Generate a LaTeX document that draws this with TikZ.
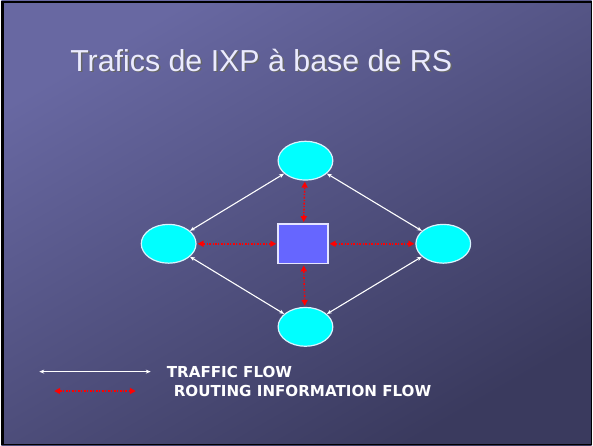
\documentclass[tikz,border=0pt]{standalone}
\usepackage{fontspec}
\setmainfont{Liberation Sans}
\newfontfamily\legendfont{DejaVu Sans}
\usetikzlibrary{positioning,arrows.meta,shapes.geometric}
\definecolor{slidetop}{HTML}{6868A2}
\definecolor{slidebottom}{HTML}{3A3A5E}
\definecolor{ixpcyan}{HTML}{00FFFF}
\definecolor{rsblue}{HTML}{6666FF}
\begin{document}
\begin{tikzpicture}[
x=1pt, y=-1pt,
hostnode/.style={ellipse, draw=white!85!cyan, fill=ixpcyan, line width=1.2pt, minimum width=55pt, minimum height=39pt, inner sep=0pt},
rsnode/.style={rectangle, draw=white!90!blue, fill=rsblue, line width=1.6pt, minimum width=50pt, minimum height=40pt, inner sep=0pt},
traffic/.style={draw=white, line width=1.1pt, {Stealth[length=5pt,width=4pt]}-{Stealth[length=5pt,width=4pt]}},
routing/.style={draw=red, line width=1.5pt, dash pattern={on 2pt off 1.5pt on 1pt off 1.5pt}, {Triangle[length=6pt,width=6pt]}-{Triangle[length=6pt,width=6pt]}, shorten >=1pt, shorten <=1pt}
]
% background
\shade[top color=slidetop, bottom color=slidebottom, shading angle=30] (0,0) rectangle (593,447);
\draw[black, line width=3pt] (1.5,1.5) -- (1.5,446) ;
\draw[black, line width=3pt] (0,1.5) -- (593,1.5);
\draw[black, line width=1pt] (592.5,0) -- (592.5,447);
\draw[black, line width=1pt] (0,446.5) -- (593,446.5);
\useasboundingbox (0,0) rectangle (593,447);

% title
\node[text=black!60, font=\fontsize{30.5}{34}\selectfont] at (262.5,61.5) {Trafics de IXP à base de RS};
\node[text=white!92!blue, font=\fontsize{30.5}{34}\selectfont] (title) at (261,60) {Trafics de IXP à base de RS};

% nodes
\node[rsnode] (RS) at (303,244.5) {};
\node[hostnode] (top) at (305.5,161) {};
\node[hostnode] (bottom) at (305.5,328) {};
\node[hostnode] (left) at (168,244.5) {};
\node[hostnode] (right) at (444,244.5) {};

\draw[traffic] (left) -- (top);
\draw[traffic] (top) -- (right);
\draw[traffic] (right) -- (bottom);
\draw[traffic] (bottom) -- (left);

\draw[routing] (RS) -- (top);
\draw[routing] (RS) -- (bottom);
\draw[routing] (RS) -- (left);
\draw[routing] (RS) -- (right);

% legend
\coordinate (tfa) at (38,373);
\coordinate (tfb) at (150,373);
\coordinate (rfa) at (52,392.5);
\coordinate (rfb) at (136,392.5);
\draw[traffic] (tfa) -- (tfb);
\draw[routing] (rfa) -- (rfb);
\node[anchor=west, text=white, font=\legendfont\bfseries\fontsize{15.2}{18}\selectfont, inner sep=0pt] (tflabel) at (166,373) {TRAFFIC FLOW};
\node[anchor=west, text=white, font=\legendfont\bfseries\fontsize{15.2}{18}\selectfont, inner sep=0pt] (rflabel) at (173,392) {ROUTING INFORMATION FLOW};
\end{tikzpicture}
\end{document}
